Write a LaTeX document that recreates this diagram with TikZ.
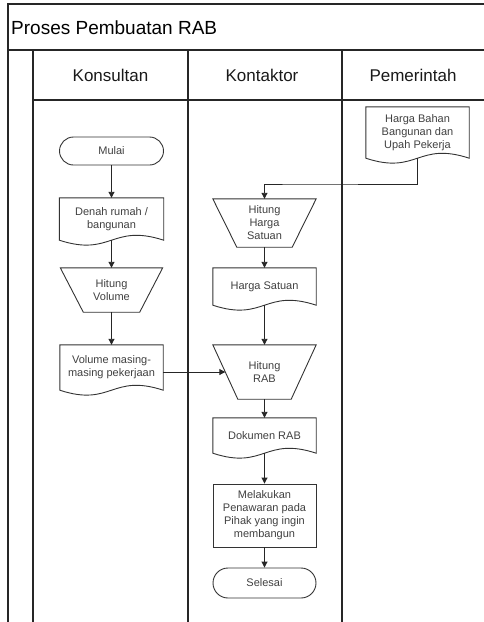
\documentclass[tikz,border=0pt]{standalone}
\usepackage{fontspec}
\setmainfont{Liberation Sans}
\usetikzlibrary{calc,arrows.meta}
\newcommand\mkdoc[1]{\draw[shp] (#1.north west) -- (#1.north east) -- (#1.south east) .. controls ($(#1.south)+(0,-17)$) and ($(#1.south)+(0,17)$) .. (#1.south west) -- cycle;}
\newcommand\mktrap[2]{\draw[shp] (#1.north west) -- (#1.north east) -- ($(#1.south east)+(-#2,0)$) -- ($(#1.south west)+(#2,0)$) -- cycle;}
\begin{document}
\begin{tikzpicture}[x=1pt,y=-1pt,
  frame/.style={line width=1.6pt, draw=black!85},
  shp/.style={line width=0.9pt, draw=black!80},
  box/.style={inner sep=0pt, align=center, font=\fontsize{11}{13}\selectfont, text=black!75},
  hdr/.style={font=\fontsize{17}{20}\selectfont, text=black!90},
  arr/.style={line width=0.9pt, draw=black!85, -{Triangle[length=6pt,width=6pt]}}]
\useasboundingbox (0,0) rectangle (484,622);
% frame
\draw[frame] (8,622) -- (8,4) -- (484,4);
\draw[frame] (8,50) -- (484,50);
\draw[frame] (33,100) -- (484,100);
\draw[frame] (33,50) -- (33,622);
\draw[frame] (188,50) -- (188,622);
\draw[frame] (342,50) -- (342,622);
\node[anchor=west, font=\fontsize{19}{22}\selectfont, inner sep=0pt] (title) at (11,28) {Proses Pembuatan RAB};
\node[hdr] (h1) at (110.5,75) {Konsultan};
\node[hdr] (h2) at (262,75) {Kontaktor};
\node[hdr] (h3) at (413,75) {Pemerintah};
% Konsultan
\node[box, shp, rounded corners=14pt, minimum width=104pt, minimum height=28pt] (mulai) at (111.5,151) {Mulai};
\node[box, minimum width=104pt, minimum height=42pt] (denah) at (111.5,219) {Denah rumah /\\bangunan};
\mkdoc{denah}
\node[box, minimum width=102pt, minimum height=44pt] (hv) at (111.5,290) {Hitung\\Volume};
\mktrap{hv}{23}
\node[box, minimum width=103pt, minimum height=45pt] (vol) at (111.5,367.5) {Volume masing-\\masing pekerjaan};
\mkdoc{vol}
% Pemerintah
\node[box, minimum width=103pt, minimum height=51pt] (hb) at (417.5,132.5) {Harga Bahan\\Bangunan dan\\Upah Pekerja};
\mkdoc{hb}
% Kontaktor
\node[box, minimum width=103pt, minimum height=48pt] (hhs) at (264.5,223) {Hitung\\Harga\\Satuan};
\mktrap{hhs}{24}
\node[box, minimum width=103pt, minimum height=37pt] (hs) at (264.5,286.5) {Harga Satuan};
\mkdoc{hs}
\node[box, minimum width=103pt, minimum height=54pt] (hrab) at (264.5,372) {Hitung\\RAB};
\mktrap{hrab}{25}
\node[box, minimum width=103pt, minimum height=35pt] (dok) at (264.5,435.5) {Dokumen RAB};
\mkdoc{dok}
\node[box, shp, minimum width=103pt, minimum height=63pt] (mel) at (264.5,515.5) {Melakukan\\Penawaran pada\\Pihak yang ingin\\membangun};
\node[box, shp, rounded corners=15pt, minimum width=103pt, minimum height=30pt] (sel) at (264.5,583) {Selesai};
% connectors
\coordinate (bend) at (300,184);
\coordinate (hrabL) at ($(hrab.west)+(12.5,0)$);
\draw[arr] (mulai.south) -- (denah.north);
\draw[arr] (denah.south) -- (hv.north);
\draw[arr] (hv.south) -- (vol.north);
\draw[arr] (hb.south) |- (bend) -| (hhs.north);
\draw[arr] (hhs.south) -- (hs.north);
\draw[arr] (hs.south) -- (hrab.north);
\draw[arr] (vol.east |- hrabL) -- (hrabL);
\draw[arr] (hrab.south) -- (dok.north);
\draw[arr] (dok.south) -- (mel.north);
\draw[arr] (mel.south) -- (sel.north);
\end{tikzpicture}
\end{document}
